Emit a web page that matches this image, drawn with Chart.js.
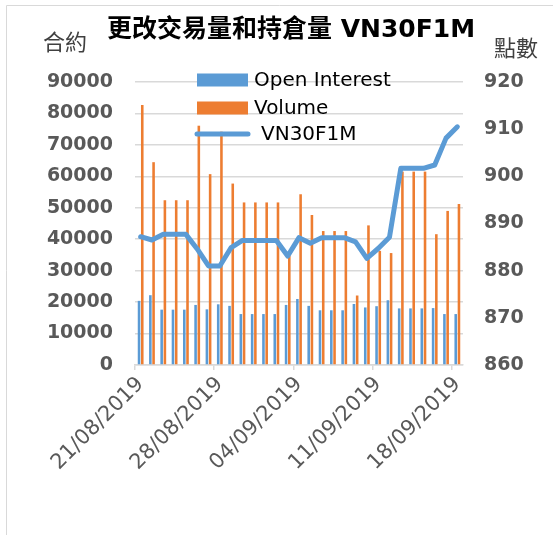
<!DOCTYPE html>
<html>
<head>
<meta charset="utf-8">
<script src="https://cdn.jsdelivr.net/npm/chart.js@4.4.1/dist/chart.umd.min.js"></script>
<style>
  html, body { margin: 0; padding: 0; background: #ffffff; }
  #wrap { position: relative; width: 553px; height: 535px; }
</style>
</head>
<body>
<div id="wrap"><canvas id="oi-volume-chart" width="553" height="535"></canvas></div>
<script>
// data (one bar per calendar day, weekends repeat Friday)
let dateLabels = [
  "21/08/2019", "22/08/2019", "23/08/2019", "24/08/2019", "25/08/2019",
  "26/08/2019", "27/08/2019", "28/08/2019", "29/08/2019", "30/08/2019",
  "31/08/2019", "01/09/2019", "02/09/2019", "03/09/2019", "04/09/2019",
  "05/09/2019", "06/09/2019", "07/09/2019", "08/09/2019", "09/09/2019",
  "10/09/2019", "11/09/2019", "12/09/2019", "13/09/2019", "14/09/2019",
  "15/09/2019", "16/09/2019", "17/09/2019", "18/09/2019",
];

let openInterest = [
  20400, 22200, 17600, 17600, 17600, 19100, 17700, 19300, 18800, 16200,
  16200, 16200, 16200, 19100, 21000, 18800, 17400, 17400, 17400, 19400,
  18300, 18700, 20600, 18000, 18000, 18000, 18100, 16200, 16200,
];

let volume = [
  82700, 64500, 52400, 52400, 52400, 76100, 60700, 74200, 57700, 51700,
  51700, 51700, 51700, 34800, 54300, 47700, 42600, 42600, 42600, 22100,
  44400, 36300, 35600, 61500, 61500, 61500, 41600, 49000, 51200,
];

let vn30f1m = [
  887.2, 886.5, 887.7, 887.7, 887.7, 884.6, 881.0, 881.0, 884.9, 886.4,
  886.4, 886.4, 886.4, 883.1, 887.0, 885.8, 887.0, 887.0, 887.0, 886.1,
  882.6, 884.7, 887.1, 901.7, 901.7, 901.7, 902.4, 908.1, 910.5,
];

let chartTitle = "更改交易量和持倉量 VN30F1M";
let leftUnit = "合約";
let rightUnit = "點數";

const colorsHEX = {
  blue: "#5b9bd5",
  orange: "#ed7d31",
  grid: "#d9d9d9",
  tick: "#595959",
};

// title, unit labels, in-plot legend and the outer frame
const chartText = {
  id: "chartText",
  beforeDraw(chart) {
    let ctx = chart.ctx;
    ctx.save();
    ctx.strokeStyle = colorsHEX.grid;
    ctx.lineWidth = 1;
    ctx.beginPath();
    ctx.moveTo(6.5, 535);
    ctx.lineTo(6.5, 5.5);
    ctx.lineTo(553, 5.5);
    ctx.stroke();
    ctx.restore();
  },
  afterDraw(chart) {
    let ctx = chart.ctx;
    ctx.save();
    ctx.textBaseline = "middle";

    ctx.fillStyle = "#000000";
    ctx.textAlign = "center";
    ctx.font = 'bold 25px "DejaVu Sans", "Noto Sans CJK TC"';
    ctx.fillText(chartTitle, 291, 30);

    ctx.fillStyle = "#404040";
    ctx.font = '22px "Noto Sans CJK TC"';
    ctx.fillText(leftUnit, 65, 42);
    ctx.fillText(rightUnit, 516, 48);

    // legend
    let sets = chart.data.datasets;
    let x = 197;
    let rows = [80, 108, 134];
    ctx.textAlign = "left";
    ctx.font = '20px "DejaVu Sans"';
    sets.forEach((ds, i) => {
      let y = rows[i];
      if (ds.type === "line") {
        ctx.strokeStyle = ds.borderColor;
        ctx.lineWidth = 5;
        ctx.lineCap = "round";
        ctx.beginPath();
        ctx.moveTo(x, y);
        ctx.lineTo(x + 51, y);
        ctx.stroke();
        ctx.fillStyle = "#000000";
        ctx.fillText(ds.label, x + 64, y + 1);
      } else {
        ctx.fillStyle = ds.backgroundColor;
        ctx.fillRect(x, y - 6.5, 51, 13);
        ctx.fillStyle = "#000000";
        ctx.fillText(ds.label, x + 57, y + 1);
      }
    });
    ctx.restore();
  },
};

let oiVolumeChart = new Chart("oi-volume-chart", {
  type: "bar",
  data: {
    labels: dateLabels,
    datasets: [
      {
        label: "Open Interest",
        data: openInterest,
        backgroundColor: colorsHEX.blue,
        categoryPercentage: 0.57,
        barPercentage: 0.8,
        yAxisID: "y",
        order: 1,
      },
      {
        label: "Volume",
        data: volume,
        backgroundColor: colorsHEX.orange,
        categoryPercentage: 0.57,
        barPercentage: 0.8,
        yAxisID: "y",
        order: 1,
      },
      {
        type: "line",
        label: "VN30F1M",
        data: vn30f1m,
        borderColor: colorsHEX.blue,
        borderWidth: 5,
        borderCapStyle: "round",
        borderJoinStyle: "round",
        pointRadius: 0,
        tension: 0,
        yAxisID: "y1",
        order: 0,
      },
    ],
  },
  options: {
    responsive: false,
    animation: false,
    devicePixelRatio: 1,
    layout: {
      padding: { top: 82, left: 0, right: 0, bottom: 0 },
    },
    plugins: {
      legend: { display: false },
      title: { display: false },
      tooltip: { enabled: false },
    },
    scales: {
      x: {
        offset: true,
        grid: {
          offset: true,
          drawOnChartArea: false,
          drawTicks: true,
          tickLength: 5,
          lineWidth: 1.5,
          color: (c) => (c.index % 7 === 0 ? colorsHEX.grid : "rgba(0,0,0,0)"),
        },
        border: { display: true, color: colorsHEX.grid, width: 1.5 },
        ticks: {
          autoSkip: false,
          minRotation: 45,
          maxRotation: 45,
          padding: 2,
          color: colorsHEX.tick,
          font: { family: "DejaVu Sans", size: 21 },
          callback: function (value, index) {
            return index % 7 === 0 ? dateLabels[index] : "";
          },
        },
        afterFit: function (scale) {
          scale.height = 170;
        },
      },
      y: {
        position: "left",
        min: 0,
        max: 90000,
        grid: {
          color: colorsHEX.grid,
          lineWidth: 1.5,
          drawTicks: false,
        },
        border: { display: false },
        ticks: {
          stepSize: 10000,
          padding: 22,
          color: colorsHEX.tick,
          font: { family: "DejaVu Sans", size: 19, weight: "bold" },
          callback: (v) => String(v),
        },
        afterFit: function (scale) {
          scale.width = 135;
        },
      },
      y1: {
        position: "right",
        min: 860,
        max: 920,
        grid: { display: false, drawTicks: false },
        border: { display: false },
        ticks: {
          stepSize: 10,
          padding: 21,
          color: colorsHEX.tick,
          font: { family: "DejaVu Sans", size: 19, weight: "bold" },
        },
        afterFit: function (scale) {
          scale.width = 90;
        },
      },
    },
  },
  plugins: [chartText],
});
</script>
</body>
</html>
